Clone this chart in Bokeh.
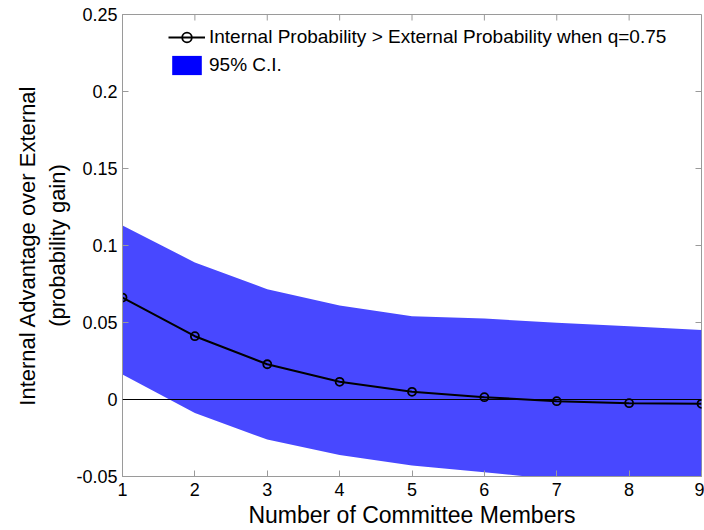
import math
from bokeh.plotting import figure
from bokeh.models import Range1d, FixedTicker, Span, Legend, LegendItem, ColumnDataSource
from bokeh.embed import file_html
from bokeh.resources import INLINE

members = [1, 2, 3, 4, 5, 6, 7, 8, 9]
advantage = [0.0662, 0.0411, 0.0229, 0.0115, 0.0050, 0.0015, -0.0011, -0.0024, -0.0028]
ci_upper = [0.113, 0.089, 0.0716, 0.061, 0.054, 0.0526, 0.0498, 0.0476, 0.0452]
ci_lower = [0.0162, -0.0087, -0.026, -0.036, -0.0429, -0.0472, -0.052, -0.056, -0.060]
y_ticks = [-0.05, 0, 0.05, 0.1, 0.15, 0.2, 0.25]
y_tick_labels = ["-0.05", "0", "0.05", "0.1", "0.15", "0.2", "0.25"]
x_ticks = members
x_min, x_max = 1, 9
y_min, y_max = -0.05, 0.25

FONT = "Liberation Sans"
AX = "#9a9a9a"

p = figure(width=704, height=530, output_backend="svg", toolbar_location=None,
           x_range=Range1d(x_min, x_max), y_range=Range1d(y_min, y_max),
           min_border_left=122, min_border_right=3, min_border_top=14, min_border_bottom=54)
p.xgrid.visible = False
p.ygrid.visible = False
p.outline_line_color = AX
p.background_fill_color = "white"

src = ColumnDataSource(dict(x=members, y=advantage, lo=ci_lower, hi=ci_upper))
band = p.varea(x="x", y1="lo", y2="hi", source=src, fill_color="#4848ff")
p.add_layout(Span(location=0, dimension="width", line_color="black", line_width=1.2))
ln = p.line(x="x", y="y", source=src, line_color="black", line_width=2)
mk = p.scatter(x="x", y="y", source=src, marker="circle", size=8, fill_color=None,
               line_color="black", line_width=1.8)
# legend-only swatch (pure blue), zero-height area so nothing shows in the plot
sw = p.varea(x="x", y1="hi", y2="hi", source=src, fill_color="#0000ff")

# inward ticks on the top and right edges of the box
p.ray(x=x_ticks, y=[y_max] * len(x_ticks), length=6, length_units="screen",
      angle=-math.pi / 2, line_color=AX, line_width=1)
p.ray(x=[x_max] * len(y_ticks), y=y_ticks, length=6, length_units="screen",
      angle=math.pi, line_color=AX, line_width=1)

for ax in (p.xaxis[0], p.yaxis[0]):
    ax.axis_line_color = AX
    ax.major_tick_line_color = AX
    ax.minor_tick_line_color = None
    ax.major_tick_in = 6
    ax.major_tick_out = 0
    ax.major_label_text_font = FONT
    ax.major_label_text_font_size = "18px"
    ax.major_label_text_color = "black"
    ax.axis_label_text_font = FONT
    ax.axis_label_text_font_style = "normal"
    ax.axis_label_text_color = "black"

p.xaxis[0].ticker = FixedTicker(ticks=x_ticks)
p.xaxis[0].major_label_standoff = 6
p.xaxis[0].axis_label = "Number of Committee Members"
p.xaxis[0].axis_label_text_font_size = "23px"
p.xaxis[0].axis_label_standoff = 3
p.yaxis[0].ticker = FixedTicker(ticks=y_ticks)
p.yaxis[0].major_label_overrides = {t: l for t, l in zip(y_ticks, y_tick_labels)}
p.yaxis[0].major_label_standoff = 5
p.yaxis[0].axis_label = "Internal Advantage over External\n(probability gain)"
p.yaxis[0].axis_label_text_font_size = "22px"
p.yaxis[0].axis_label_standoff = 3

legend = Legend(items=[
    LegendItem(label="Internal Probability > External Probability when q=0.75", renderers=[ln, mk]),
    LegendItem(label="95% C.I.", renderers=[sw]),
])
legend.label_text_font = FONT
legend.label_text_font_size = "19px"
legend.label_text_color = "black"
legend.label_height = 24
legend.glyph_width = 37
legend.glyph_height = 24
legend.label_standoff = 4
legend.spacing = 4
legend.padding = 0
legend.margin = 0
legend.border_line_color = None
legend.background_fill_alpha = 0
legend.location = (46, 399)
p.add_layout(legend)

open("out.html", "w").write(file_html(p, INLINE))
